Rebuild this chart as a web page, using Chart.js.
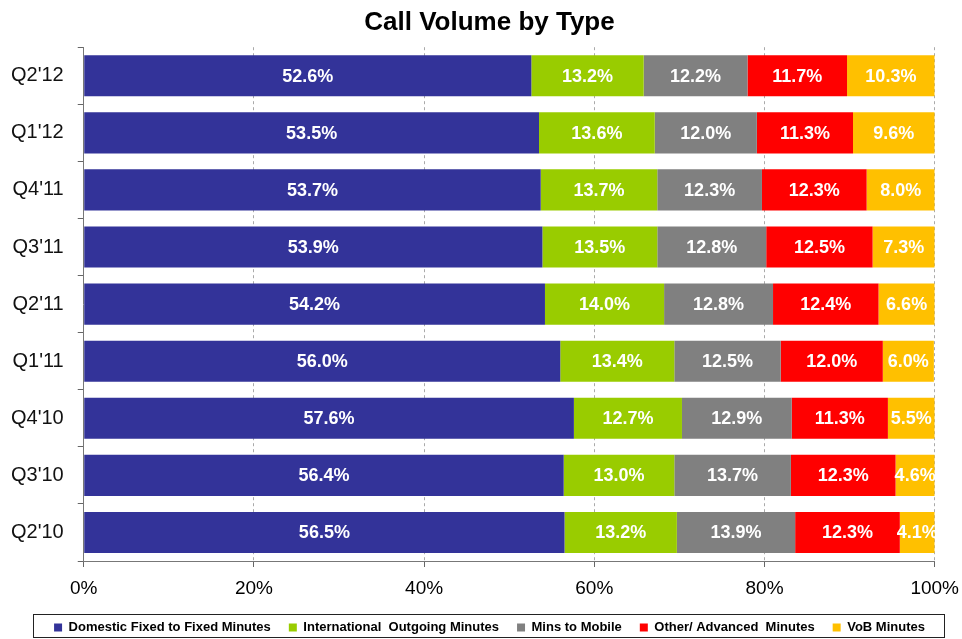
<!DOCTYPE html>
<html>
<head>
<meta charset="utf-8">
<script src="https://cdn.jsdelivr.net/npm/chart.js@4/dist/chart.umd.min.js"></script>
<style>
html,body{margin:0;padding:0;background:#fff;}
#wrap{width:962px;height:639px;}
</style>
</head>
<body>
<div id="wrap"><canvas id="c" width="962" height="639"></canvas></div>
<script>
const categories = ["Q2'12","Q1'12","Q4'11","Q3'11","Q2'11","Q1'11","Q4'10","Q3'10","Q2'10"];
const domestic = [52.6,53.5,53.7,53.9,54.2,56.0,57.6,56.4,56.5];
const international = [13.2,13.6,13.7,13.5,14.0,13.4,12.7,13.0,13.2];
const mobile = [12.2,12.0,12.3,12.8,12.8,12.5,12.9,13.7,13.9];
const other = [11.7,11.3,12.3,12.5,12.4,12.0,11.3,12.3,12.3];
const vob = [10.3,9.6,8.0,7.3,6.6,6.0,5.5,4.6,4.1];
const seriesNames = ["Domestic Fixed to Fixed Minutes","International  Outgoing Minutes","Mins to Mobile","Other/ Advanced  Minutes","VoB Minutes"];
const seriesColors = ["#333399","#99CC00","#808080","#FF0000","#FFC000"];
const xTicks = [0,20,40,60,80,100];

const FONT = "Arial, 'Liberation Sans', sans-serif";

const labelPlugin = {
  id:'barLabels',
  afterDatasetsDraw(chart){
    const ctx = chart.ctx;
    ctx.save();
    ctx.font = "bold 18px " + FONT;
    ctx.fillStyle = "#fff";
    ctx.textAlign = "center";
    ctx.textBaseline = "middle";
    chart.data.datasets.forEach((ds,i)=>{
      const meta = chart.getDatasetMeta(i);
      meta.data.forEach((bar,j)=>{
        const p = bar.getProps(['x','y','base'],true);
        const cx = (p.x + p.base)/2;
        ctx.fillText(ds.data[j].toFixed(1)+"%", cx, p.y+1);
      });
    });
    ctx.restore();
  }
};

// shift title and legend so they sit like the original
const shiftPlugin = {
  id:'shiftBoxes',
  afterLayout(chart){
    const dx = 10;
    [chart.titleBlock, chart.legend].forEach(b=>{
      if(!b) return;
      b.left += dx; b.right += dx;
    });
    const lg = chart.legend, dy = -8;
    if(lg){ lg.top += dy; lg.bottom += dy; }
  }
};

const legendBox = {
  id:'legendBox',
  afterDraw(chart){
    const lg = chart.legend;
    if(!lg || !lg.legendHitBoxes.length) return;
    const hb = lg.legendHitBoxes;
    const x0 = hb[0].left - 21;
    const last = hb[hb.length-1];
    const x1 = last.left + last.width + 19;
    const y0 = hb[0].top - 7;
    const y1 = hb[0].top + hb[0].height + 3;
    const ctx = chart.ctx;
    ctx.save();
    ctx.strokeStyle = "#222";
    ctx.lineWidth = 1;
    ctx.strokeRect(Math.round(x0)+0.5, Math.round(y0)+0.5, Math.round(x1-x0), Math.round(y1-y0));
    ctx.restore();
  }
};

const data = {
  labels: categories,
  datasets: [domestic,international,mobile,other,vob].map((arr,i)=>({
    label: seriesNames[i],
    data: arr,
    backgroundColor: seriesColors[i],
    borderWidth: 0,
    barPercentage: 0.72,
    categoryPercentage: 1.0
  }))
};

new Chart(document.getElementById('c'), {
  type:'bar',
  data,
  plugins:[shiftPlugin, labelPlugin, legendBox],
  options:{
    indexAxis:'y',
    responsive:false,
    animation:false,
    layout:{padding:{left:-3,right:0,top:0,bottom:-13}},
    plugins:{
      title:{display:true,text:'Call Volume by Type',color:'#000',
        font:{family:FONT,size:26,weight:'bold'},padding:{top:7,bottom:9}},
      legend:{position:'bottom',
        labels:{font:{family:FONT,size:13,weight:'bold'},color:'#000',
          boxWidth:8,boxHeight:8,padding:18},
      },
      tooltip:{enabled:false}
    },
    scales:{
      x:{stacked:true,min:0,max:100,
        afterBuildTicks(s){ s.ticks = xTicks.map(v=>({value:v})); },
        ticks:{callback:v=>v+'%',font:{family:FONT,size:19,lineHeight:2.0},color:'#000',padding:3},
        grid:{color:'#aaa',lineWidth:1,drawOnChartArea:true,tickLength:6,tickColor:'#666'},
        border:{display:true,color:'#777',dash:[3,3]}
      },
      y:{stacked:true,
        ticks:{font:{family:FONT,size:20},color:'#111',padding:14},
        grid:{offset:true,drawOnChartArea:false,tickLength:6,color:'#666'},
        border:{display:true,color:'#777'}
      }
    }
  }
});
</script>
</body>
</html>
